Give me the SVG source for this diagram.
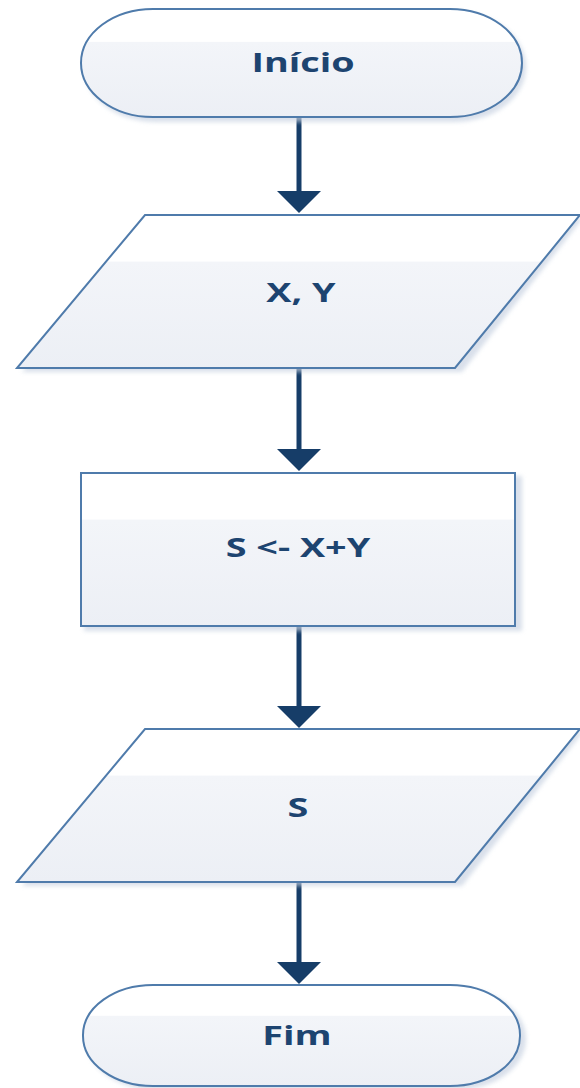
<svg xmlns="http://www.w3.org/2000/svg" width="580" height="1088" viewBox="0 0 580 1088">
  <style>
    .shape { fill: url(#fillGrad); stroke: #4f7bab; stroke-width: 2; }
    .shadow { fill: #c9d3e2; opacity: 0.7; filter: url(#soft); }
    .label { font-family: "Open Sans", "DejaVu Sans", sans-serif; font-weight: bold; font-size: 27px; fill: #1d4470; text-anchor: middle; }
    .flow { stroke: #163d68; stroke-width: 5; fill: none; }
    .head { fill: #163d68; }
  </style>
  <defs>
    <linearGradient id="fillGrad" x1="0" y1="0" x2="0" y2="1">
      <stop offset="0" stop-color="#ffffff"/>
      <stop offset="0.3" stop-color="#ffffff"/>
      <stop offset="0.31" stop-color="#f3f5f9"/>
      <stop offset="1" stop-color="#eceff5"/>
    </linearGradient>
    <filter id="soft" x="-10%" y="-10%" width="120%" height="120%">
      <feGaussianBlur stdDeviation="2"/>
    </filter>
  </defs>

  <!-- connectors -->
  <g id="connectors">
    <line class="flow" x1="299" y1="118" x2="299" y2="196"/>
    <polygon class="head" points="277,191 321,191 299,213"/>
    <line class="flow" x1="299" y1="368" x2="299" y2="452"/>
    <polygon class="head" points="277,449 321,449 299,471"/>
    <line class="flow" x1="299" y1="627" x2="299" y2="710"/>
    <polygon class="head" points="277,706 321,706 299,728"/>
    <line class="flow" x1="299" y1="882" x2="299" y2="965"/>
    <polygon class="head" points="277,962 321,962 299,984"/>
  </g>

  <!-- start terminator -->
  <g id="inicio">
    <rect class="shadow" x="84" y="12" width="442" height="110" rx="72" ry="55"/>
    <rect class="shape" x="81" y="9" width="441" height="108" rx="72" ry="54"/>
    <text class="label" x="303" y="72" transform="translate(303 0) scale(1.4 1) translate(-303 0)">Início</text>
  </g>

  <!-- input X, Y -->
  <g id="entrada">
    <polygon class="shadow" points="148,218 583,218 462,372 22,372"/>
    <polygon class="shape" points="145,215 580,215 455,368 17,368"/>
    <text class="label" x="301" y="302" transform="translate(301 0) scale(1.4 1) translate(-301 0)">X, Y</text>
  </g>

  <!-- process S <- X+Y -->
  <g id="processo">
    <rect class="shadow" x="84" y="476" width="438" height="155"/>
    <rect class="shape" x="81" y="473" width="434" height="153"/>
    <text class="label" x="298" y="557" transform="translate(298 0) scale(1.4 1) translate(-298 0)">S &lt;- X+Y</text>
  </g>

  <!-- output S -->
  <g id="saida">
    <polygon class="shadow" points="148,732 583,732 462,886 22,886"/>
    <polygon class="shape" points="145,729 580,729 455,882 17,882"/>
    <text class="label" x="298" y="817" transform="translate(298 0) scale(1.4 1) translate(-298 0)">S</text>
  </g>

  <!-- end terminator -->
  <g id="fim">
    <rect class="shadow" x="86" y="988" width="440" height="102" rx="70" ry="51"/>
    <rect class="shape" x="83" y="985" width="437" height="101" rx="70" ry="50"/>
    <text class="label" x="297" y="1045" transform="translate(297 0) scale(1.4 1) translate(-297 0)">Fim</text>
  </g>
</svg>
